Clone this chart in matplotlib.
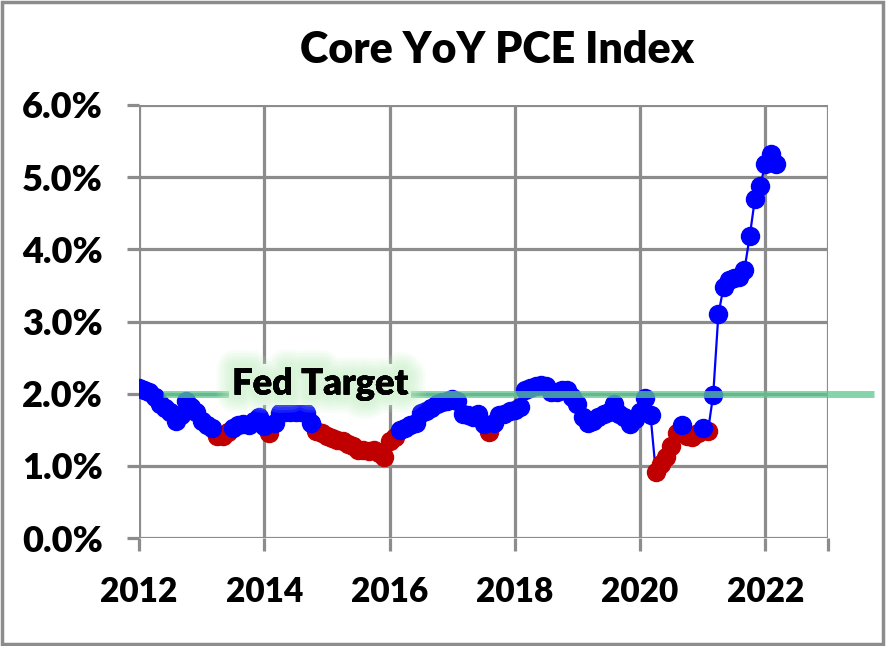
import numpy as np
import matplotlib
matplotlib.use("Agg")
import matplotlib.pyplot as plt
import matplotlib.patheffects as pe
from matplotlib.ticker import FuncFormatter

plt.rcParams['font.family'] = ['Lato', 'DejaVu Sans']
plt.rcParams['font.weight'] = 'heavy'

# monthly core PCE YoY, Jan 2012 .. Mar 2022
start_year = 2012
core_pce = [
    2.08, 2.05, 2.02, 1.95, 1.85, 1.80, 1.75, 1.62, 1.70, 1.90, 1.82, 1.75,  # 2012
    1.62, 1.56, 1.52, 1.42, 1.42, 1.47, 1.52, 1.56, 1.58, 1.57, 1.62, 1.68,  # 2013
    1.55, 1.45, 1.60, 1.73, 1.74, 1.74, 1.74, 1.74, 1.73, 1.60, 1.48, 1.45,  # 2014
    1.42, 1.38, 1.36, 1.34, 1.30, 1.28, 1.22, 1.22, 1.20, 1.22, 1.18, 1.12,  # 2015
    1.35, 1.40, 1.50, 1.52, 1.56, 1.60, 1.73, 1.76, 1.80, 1.85, 1.88, 1.90,  # 2016
    1.93, 1.90, 1.72, 1.70, 1.68, 1.72, 1.58, 1.47, 1.60, 1.70, 1.72, 1.76,  # 2017
    1.78, 1.82, 2.05, 2.08, 2.10, 2.12, 2.10, 2.02, 2.02, 2.05, 2.05, 1.95,  # 2018
    1.85, 1.68, 1.60, 1.62, 1.68, 1.72, 1.75, 1.85, 1.72, 1.68, 1.58, 1.65,  # 2019
    1.75, 1.94, 1.70, 0.92, 1.02, 1.12, 1.28, 1.45, 1.56, 1.42, 1.40, 1.45,  # 2020
    1.52, 1.48, 1.98, 3.10, 3.48, 3.58, 3.60, 3.62, 3.72, 4.18, 4.70, 4.88,  # 2021
    5.18, 5.32, 5.18,                                                        # 2022
]
fed_target = 2.0
low_cutoff = 1.5

x_ticks = [2012, 2014, 2016, 2018, 2020, 2022]
y_ticks = [0, 1, 2, 3, 4, 5, 6]

vals = np.array(core_pce)
dates = start_year + np.arange(len(vals)) / 12.0
low = vals < low_cutoff

fig = plt.figure(figsize=(8.86, 6.46), dpi=100)
ax = fig.add_axes([139 / 886, 1 - 538 / 646, (828 - 139) / 886, (538 - 105) / 646])

grid_c = '#8c8c8c'
ax.set_xlim(2012, 2023)
ax.set_ylim(0, 6)
ax.set_xticks(x_ticks + [2023])
ax.set_xticklabels([str(t) for t in x_ticks] + [''])
ax.set_yticks(y_ticks)
ax.yaxis.set_major_formatter(FuncFormatter(lambda v, p: f"{v:.1f}%"))
ax.grid(True, color=grid_c, linewidth=2.3)
ax.set_axisbelow(True)
for s in ax.spines.values():
    s.set_visible(False)
ax.tick_params(axis='both', length=9, width=2.3, color=grid_c)
ax.tick_params(axis='x', labelsize=24, pad=18)
ax.tick_params(axis='y', labelsize=26, pad=17)

# blue line through every month, red dots for the soft months
ax.plot(dates, vals, color='#0000ff', linewidth=1.6, zorder=3)
ax.plot(dates[low], vals[low], 'o', color='#c00000', markersize=13, zorder=4)
ax.plot(dates[~low], vals[~low], 'o', color='#0000ff', markersize=13, zorder=5)

# fed target line
ax.plot([2012.38, 2023.73], [fed_target, fed_target], color='#5cc88e', alpha=0.75,
        linewidth=5, solid_capstyle='butt', clip_on=False, zorder=6)

# soft green glow round the label
glow = [pe.withStroke(linewidth=w, foreground='#c4f0c4', alpha=0.12)
        for w in (26, 22, 18, 15, 12, 9, 6)]
glow.append(pe.Normal())
ax.text(2014.89, 2.13, 'Fed Target', fontsize=26, ha='center', va='center', zorder=7,
        bbox=dict(boxstyle='square,pad=0.1', facecolor='white', edgecolor='none'),
        path_effects=glow)

fig.text(497 / 886, 1 - 50 / 646, 'Core YoY PCE Index', fontsize=31, ha='center', va='center')

# outer chart frame
fig.patches.append(plt.Rectangle((0.002, 0.003), 0.995, 0.994, transform=fig.transFigure,
                                 fill=False, edgecolor='#8c8c8c', linewidth=2.5))

fig.savefig('out.png', dpi=100)
